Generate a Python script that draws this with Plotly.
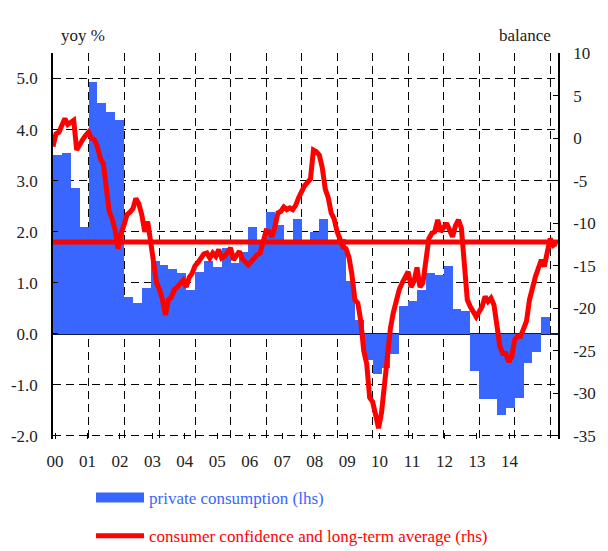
import numpy as np
import pandas as pd
import plotly.graph_objects as go

# ---------------- data ----------------
QUARTER_START = "2000Q1"
CONSUMPTION_YOY = [
    3.50, 3.55, 2.85, 2.10,   # 2000
    4.94, 4.52, 4.35, 4.18,   # 2001
    0.73, 0.61, 0.89, 1.43,   # 2002
    1.35, 1.27, 1.20, 0.86,   # 2003
    1.22, 1.42, 1.30, 1.68,   # 2004
    1.39, 1.60, 2.09, 1.80,   # 2005
    2.38, 2.14, 1.80, 2.24,   # 2006
    1.78, 1.99, 2.24, 1.78,   # 2007
    1.86, 1.04, 0.27, -0.52,  # 2008
    -0.79, -0.66, -0.40, 0.55,  # 2009
    0.65, 0.86, 1.19, 1.16,   # 2010
    1.32, 0.49, 0.45, -0.72,  # 2011
    -1.28, -1.28, -1.59, -1.46,  # 2012
    -1.26, -0.58, -0.35, 0.33,   # 2013
]

MONTH_START = "2000-01"
CONFIDENCE = [
    -1.0, 0.5, 0.7, 1.5, 2.3, 1.6, 1.9, 2.1, -1.4, -0.7, -0.2, 0.3,            # 2000
    0.7, 0.0, -0.2, -1.0, -2.4, -3.0, -6.5, -8.6, -9.5, -10.8, -13.0, -11.2,   # 2001
    -10.2, -9.0, -8.7, -8.3, -7.1, -7.7, -9.0, -11.0, -9.8, -12.5, -15.0, -17.0,  # 2002
    -17.8, -19.0, -20.8, -19.0, -18.7, -17.8, -17.5, -17.0, -16.7, -17.5, -16.4, -15.9,  # 2003
    -15.0, -14.6, -14.1, -13.6, -13.5, -14.1, -13.5, -13.9, -13.1, -14.1, -13.9, -13.5,  # 2004
    -12.9, -14.3, -13.9, -13.3, -14.2, -14.6, -14.9, -14.5, -14.0, -13.7, -13.5, -12.0,  # 2005
    -10.9, -11.0, -11.6, -10.4, -8.8, -8.6, -8.1, -8.4, -8.2, -8.4, -7.9, -7.0,  # 2006
    -6.2, -5.6, -5.2, -4.8, -1.4, -1.6, -2.0, -3.5, -6.0, -7.0, -8.8, -9.5,     # 2007
    -11.0, -12.0, -12.8, -13.0, -14.0, -16.0, -19.0, -19.4, -21.5, -25.0, -26.5, -30.5,  # 2008
    -31.0, -32.5, -34.1, -32.3, -28.8, -24.8, -22.4, -20.5, -18.8, -17.8, -17.0, -16.3,  # 2009
    -15.7, -17.5, -16.8, -15.2, -17.5, -17.0, -14.5, -11.8, -11.2, -11.0, -9.6, -11.0,  # 2010
    -10.5, -10.0, -10.8, -11.6, -10.3, -9.6, -10.6, -14.7, -19.0, -19.8, -20.4, -21.0,  # 2011
    -20.4, -19.8, -18.6, -19.2, -18.8, -19.6, -22.0, -24.5, -25.3, -25.3, -26.3, -25.7,  # 2012
    -23.7, -23.3, -23.3, -22.2, -21.5, -19.0, -17.5, -16.3, -15.3, -14.3, -15.1, -13.2,  # 2013
    -11.8, -12.6, -12.4,  # 2014
]
LONG_TERM_AVG = -12.2

YEAR_LABELS = ["00", "01", "02", "03", "04", "05", "06", "07",
               "08", "09", "10", "11", "12", "13", "14"]
LEFT_TICKS = [-2, -1, 0, 1, 2, 3, 4, 5]
RIGHT_TICKS = [-35, -30, -25, -20, -15, -10, -5, 0, 5, 10]

# ---------------- derived x positions ----------------
q = pd.period_range(QUARTER_START, periods=len(CONSUMPTION_YOY), freq="Q")
bar_x = q.year + (q.quarter - 0.5) / 4.0
m = pd.period_range(MONTH_START, periods=len(CONFIDENCE), freq="M")
line_x = m.year + (m.month - 1) / 12.0
label_pos = list(range(len(YEAR_LABELS)))

X_MIN, X_MAX = 2000.0, 2014.22

BLUE = "#3866ff"
RED = "#ff0000"
FONT = "Liberation Serif, DejaVu Serif, serif"
TXT = "#222222"
DASH = "8px,5px"

left_text = ["%.1f" % v for v in LEFT_TICKS]          # hyphen minus as in original
right_text = ["%d" % v for v in RIGHT_TICKS]

fig = go.Figure()

fig.add_trace(go.Bar(
    x=bar_x, y=CONSUMPTION_YOY, width=0.25,
    marker=dict(color=BLUE, line=dict(width=0)),
    name="private consumption (lhs)", showlegend=False,
    xaxis="x", yaxis="y",
))

# legend swatch for bars
fig.add_trace(go.Scatter(
    x=[None], y=[None], mode="lines",
    line=dict(color=BLUE, width=10),
    name='<span style="color:%s">private consumption (lhs)</span>' % BLUE,
    legendgroup="a", showlegend=True, xaxis="x", yaxis="y",
))

fig.add_trace(go.Scatter(
    x=[X_MIN, X_MAX], y=[LONG_TERM_AVG, LONG_TERM_AVG], mode="lines",
    line=dict(color=RED, width=5), showlegend=False,
    xaxis="x", yaxis="y2", hoverinfo="skip",
))

fig.add_trace(go.Scatter(
    x=line_x, y=CONFIDENCE, mode="lines",
    line=dict(color=RED, width=5),
    name='<span style="color:%s">consumer confidence and long-term average (rhs)</span>' % RED,
    legendgroup="b", showlegend=True,
    xaxis="x", yaxis="y2",
))

# invisible carrier so that the year-label axis is drawn
fig.add_trace(go.Scatter(
    x=label_pos, y=[None] * len(label_pos), mode="markers",
    showlegend=False, hoverinfo="skip", xaxis="x2", yaxis="y",
))

# Label axis (offset from the year gridlines as in the original)
label_lo = -2.0 / 32.46
label_hi = 503.0 / 32.46

fig.update_layout(
    width=608, height=551,
    margin=dict(l=53, r=50, t=53, b=112, autoexpand=False),
    paper_bgcolor="white", plot_bgcolor="white",
    font=dict(family=FONT, size=17, color=TXT),
    bargap=0,
    showlegend=True,
    legend=dict(
        x=(91 - 53) / 505.0, y=(439 - 480) / 386.0,
        xanchor="left", yanchor="top",
        orientation="v", tracegroupgap=13,
        font=dict(family=FONT, size=17),
        bgcolor="rgba(0,0,0,0)", itemwidth=48,
    ),
    xaxis=dict(
        range=[X_MIN, X_MAX], tick0=2000, dtick=1,
        showgrid=True, gridcolor="#000000", griddash=DASH, gridwidth=1,
        showticklabels=False, ticks="", zeroline=False, showline=False,
        automargin=False,
    ),
    xaxis2=dict(
        overlaying="x", anchor="y", side="bottom",
        range=[label_lo, label_hi],
        tickmode="array", tickvals=label_pos,
        ticktext=YEAR_LABELS,
        ticks="inside", ticklen=6, tickcolor="#000000",
        showgrid=False, zeroline=False, showline=False,
        ticklabelstandoff=10, automargin=False,
        tickfont=dict(family=FONT, size=17, color=TXT),
    ),
    yaxis=dict(
        range=[-2.06, 5.5], tickmode="array", tickvals=LEFT_TICKS,
        ticktext=left_text,
        showgrid=True, gridcolor="#000000", griddash=DASH, gridwidth=1,
        zeroline=True, zerolinecolor="#111a44", zerolinewidth=1.5,
        showline=True, linecolor="#000000", linewidth=1.5,
        ticks="inside", ticklen=5, tickcolor="#000000",
        ticklabelstandoff=10, automargin=False,
        tickfont=dict(family=FONT, size=17, color=TXT),
    ),
    yaxis2=dict(
        range=[-35.36, 10], tickmode="array", tickvals=RIGHT_TICKS,
        ticktext=right_text,
        overlaying="y", side="right", anchor="x",
        showgrid=False, zeroline=False,
        showline=True, linecolor="#000000", linewidth=1.5,
        ticks="inside", ticklen=5, tickcolor="#000000",
        ticklabelstandoff=10, automargin=False,
        tickfont=dict(family=FONT, size=17, color=TXT),
    ),
    annotations=[
        dict(text="yoy %", xref="paper", yref="paper", x=0.012, y=1.0,
             xanchor="left", yanchor="bottom", yshift=6, showarrow=False,
             font=dict(family=FONT, size=17, color=TXT)),
        dict(text="balance", xref="paper", yref="paper", x=0.99, y=1.0,
             xanchor="right", yanchor="bottom", yshift=6, showarrow=False,
             font=dict(family=FONT, size=17, color=TXT)),
    ],
)

fig.write_html(
    "out.html",
    config={"displayModeBar": False},
    post_script="document.body.style.margin='0';document.body.style.overflow='hidden';",
)
